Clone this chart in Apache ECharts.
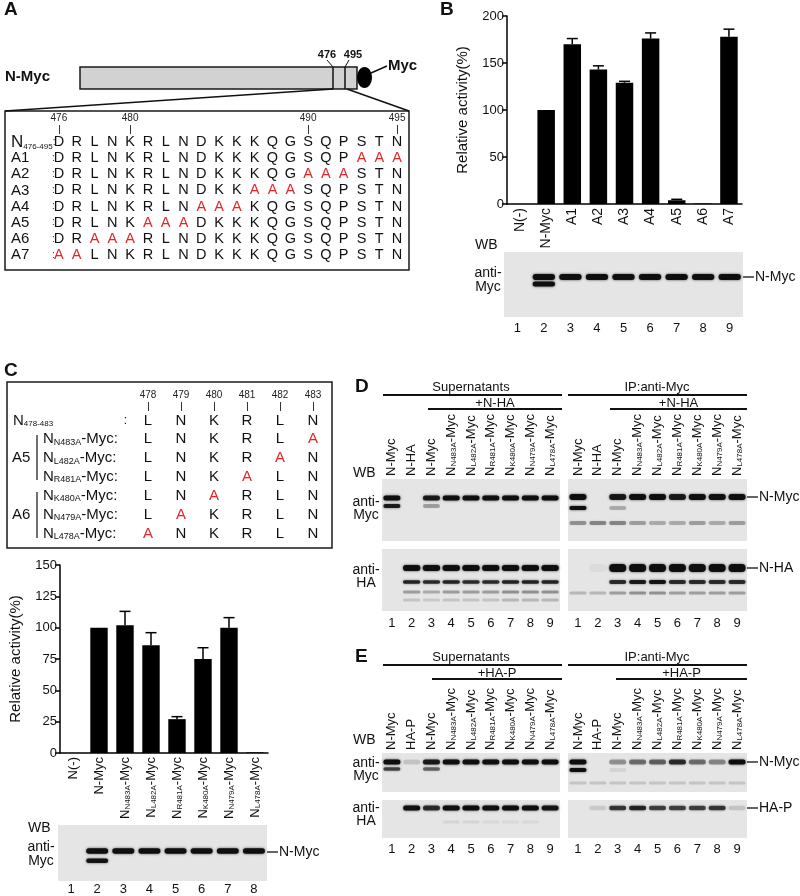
<!DOCTYPE html>
<html><head><meta charset="utf-8">
<script src="https://cdn.jsdelivr.net/npm/echarts@6/dist/echarts.min.js"></script>
<style>html,body{margin:0;padding:0;background:#fff}#c{width:800px;height:896px}</style>
</head><body><div id="c"></div>
<script>
// ================= DATA =================
// Panel B: relative activity (%)
const bCategories = ['N(-)','N-Myc','A1','A2','A3','A4','A5','A6','A7'];
const bValues = [0,100,170,143,129,176,4,0.5,178];
const bErrors = [0,0,6,4,1.5,6,1,0,8];
const bYTicks = [0,50,100,150,200];
// Panel C: relative activity (%)
const cCategories = ['N(-)','N-Myc','N483A','L482A','R481A','K480A','N479A','L478A'];
const cValues = [0,100,102,86,27,75,100,0.5];
const cErrors = [0,0,11,10,2,9,8,0];
const cYTicks = [0,25,50,75,100,125,150];
// Panel A: sequence table
const seqPositions = [476,477,478,479,480,481,482,483,484,485,486,487,488,489,490,491,492,493,494,495];
const seqMarked = [476,480,490,495];
const seqRowNames = ['N476-495','A1','A2','A3','A4','A5','A6','A7'];
const seqRows = [
 'DRLNKRLNDKKKQGSQPSTN',
 'DRLNKRLNDKKKQGSQPAAA',
 'DRLNKRLNDKKKQGAAASTN',
 'DRLNKRLNDKKAAASQPSTN',
 'DRLNKRLNAAAKQGSQPSTN',
 'DRLNKAAADKKKQGSQPSTN',
 'DRAAARLNDKKKQGSQPSTN',
 'AALNKRLNDKKKQGSQPSTN'
];
// Panel C: point mutant table
const cPositions = [478,479,480,481,482,483];
const cRowNames = ['N478-483','N483A','L482A','R481A','K480A','N479A','L478A'];
const cRows = ['LNKRLN','LNKRLA','LNKRAN','LNKALN','LNARLN','LAKRLN','ANKRLN'];
const cGroups = ['A5','A6'];
// Lane labels
const laneNums9 = ['1','2','3','4','5','6','7','8','9'];
const laneNums8 = ['1','2','3','4','5','6','7','8'];
const dLanes = ['N-Myc','N-HA','N-Myc','N483A','L482A','R481A','K480A','N479A','L478A'];
const eLanes = ['N-Myc','HA-P','N-Myc','N483A','L482A','R481A','K480A','N479A','L478A'];
// Western blot band intensities (0..1) per lane
const bBlotMyc    = [0,1,1,1,1,1,1,1,1];
const bBlotMycLow = [0,1,0,0,0,0,0,0,0];
const cBlotMyc    = [0,1,1,1,1,1,1,1];
const cBlotMycLow = [0,0.95,0,0,0,0,0,0];
const dSupMyc     = [1,0,0.9,1,1,1,1,1,1];
const dSupMycLow  = [0.9,0,0.3,0,0,0,0,0,0];
const dIpMyc      = [1,0,0.9,1,1,0.9,1,1,1];
const dIpMycLow   = [1,0,0.25,0,0,0,0,0,0];
const dIpIgG      = [0.35,0.4,0.4,0.3,0.25,0.25,0.3,0.25,0.3];
const dSupHA      = [0,1,1,1,1,1,1,1,1];
const dSupHA2     = [0,0.85,0.8,0.85,0.8,0.8,0.85,0.85,0.85];
const dSupHA3     = [0,0.3,0.25,0.3,0.3,0.3,0.35,0.35,0.35];
const dSupHA4     = [0,0.15,0.12,0.15,0.15,0.15,0.2,0.2,0.2];
const dIpHA       = [0,0.05,1,1,1,1,1,1,1];
const dIpHA2      = [0,0,0.8,0.9,0.95,0.8,0.8,0.8,0.8];
const dIpHA3      = [0.2,0.2,0.3,0.35,0.35,0.3,0.3,0.3,0.3];
const eSupMyc     = [1,0.15,0.9,1,1,1,1,1,1];
const eSupMycLow  = [0.7,0,0.55,0,0,0,0,0,0];
const eIpMyc      = [1,0,0.35,0.5,0.55,0.8,0.5,0.4,1];
const eIpMycLow   = [1,0,0.08,0,0,0,0,0,0];
const eIpIgG      = [0.15,0.15,0.15,0.15,0.15,0.15,0.15,0.15,0.15];
const eSupHA      = [0,1,0.8,1,1,1,1,1,0.95];
const eSupHALow   = [0,0,0,0.08,0.08,0.06,0.06,0.06,0];
const eIpHA       = [0,0.12,0.75,0.85,0.7,0.7,0.7,0.75,0.15];

// ================= BUILD =================
const FONT = '"Liberation Sans", Arial, Helvetica, sans-serif';
const RED = '#e3262b';
const grids=[], xAxes=[], yAxes=[], series=[], graphics=[];
function addGrid(g){ grids.push(Object.assign({containLabel:false}, g)); return grids.length-1; }
function txt(x,y,text,size,o){o=o||{};graphics.push({type:'text',x:x,y:y,silent:true,z:10,style:{text:text,fontFamily:FONT,fontSize:size,fontWeight:o.bold?'bold':'normal',fill:o.fill||'#111',align:o.align||'left',textAlign:o.align||'left',verticalAlign:'middle',textVerticalAlign:'middle'}});}
function ln(x1,y1,x2,y2,w,c){graphics.push({type:'line',silent:true,z:10,shape:{x1:x1,y1:y1,x2:x2,y2:y2},style:{stroke:c||'#111',lineWidth:w||1}});}
function rc(x,y,w,h,fill,stroke,lw){graphics.push({type:'rect',silent:true,z:1,shape:{x:x,y:y,width:w,height:h},style:{fill:fill||'none',stroke:stroke||null,lineWidth:lw||1}});}

const axisBlack = {color:'#000', width:1.5};
function errRender(params, api){
  const i=api.value(0), v=api.value(1), e=api.value(2);
  if(!(e>0)) return null;
  const p0=api.coord([i,v]), p1=api.coord([i,v+e]);
  const cap=5.5;
  return {type:'group', children:[
    {type:'line', shape:{x1:p0[0],y1:p0[1],x2:p1[0],y2:p1[1]}, style:{stroke:'#000',lineWidth:1.5}},
    {type:'line', shape:{x1:p1[0]-cap,y1:p1[1],x2:p1[0]+cap,y2:p1[1]}, style:{stroke:'#000',lineWidth:1.5}}
  ]};
}
const isMut = v => /^[NLRK]\d{3}A$/.test(v);
const laneRich = {b:{fontSize:13,fontFamily:FONT,color:'#111'}, s:{fontSize:8,fontFamily:FONT,color:'#111',verticalAlign:'bottom'}};
const laneFmt = v => isMut(v) ? '{b|N}{s|'+v+'}{b|-Myc}' : '{b|'+v+'}';

function barChart(box, cats, vals, errs, ticks, labelSize, fmt, rich){
  const g = addGrid(box);
  const xi = xAxes.length, yi = yAxes.length;
  xAxes.push({gridIndex:g, type:'category', data:cats, axisLine:{lineStyle:axisBlack}, axisTick:{show:false},
    axisLabel:{rotate:90, interval:0, margin:4, fontSize:labelSize, fontFamily:FONT, color:'#111', formatter:fmt, rich:rich}});
  yAxes.push({gridIndex:g, type:'value', min:ticks[0], max:ticks[ticks.length-1], interval:ticks[1]-ticks[0],
    axisLine:{show:true,lineStyle:axisBlack}, axisTick:{show:true,length:5,lineStyle:axisBlack}, splitLine:{show:false},
    axisLabel:{fontSize:13, fontFamily:FONT, color:'#111', margin:3},
    name:'Relative activity(%)', nameLocation:'middle', nameRotate:90, nameGap:37, nameTextStyle:{fontSize:15,fontFamily:FONT,color:'#111'}});
  series.push({type:'bar', xAxisIndex:xi, yAxisIndex:yi, data:vals, barWidth:'67%', itemStyle:{color:'#000'}, silent:true});
  series.push({type:'custom', xAxisIndex:xi, yAxisIndex:yi, renderItem:errRender, data:vals.map((v,i)=>[i,v,errs[i]]), z:3, silent:true});
}
// Panel B chart
barChart({left:507, top:16, width:235, height:188}, bCategories, bValues, bErrors, bYTicks, 14, v=>v, null);
// Panel C chart
const cRich = {b:{fontSize:13,fontFamily:FONT,color:'#111'}, s:{fontSize:8,fontFamily:FONT,color:'#111',verticalAlign:'bottom'}};
barChart({left:60, top:565, width:208, height:188}, cCategories, cValues, cErrors, cYTicks, 13, laneFmt, cRich);

// Sequence tables (text cells drawn through category scales)
function textTable(box, cols, marked, rowNames, rows, labelFmt, labelRich, labelMargin, cellSize){
  const g = addGrid(box);
  const xi = xAxes.length, yi = yAxes.length;
  const showIdx = i => marked.indexOf(cols[i]) >= 0;
  xAxes.push({gridIndex:g, type:'category', position:'top', data:cols.map(String), axisLine:{show:false},
    axisTick:{show:true, alignWithLabel:true, length:9, interval:showIdx, lineStyle:{color:'#333',width:1}},
    axisLabel:{interval:showIdx, fontSize:10, fontFamily:FONT, color:'#222', margin:11}});
  yAxes.push({gridIndex:g, type:'category', inverse:true, data:rowNames, axisLine:{show:false}, axisTick:{show:false},
    axisLabel:{align:'left', margin:labelMargin, formatter:labelFmt, rich:labelRich, interval:0}});
  const cells = [];
  rows.forEach((r,ri)=>{ r.split('').forEach((ch,ci)=>{ cells.push({c:ci, r:ri, ch:ch, red: ri>0 && ch!==rows[0][ci]}); }); });
  series.push({type:'custom', xAxisIndex:xi, yAxisIndex:yi, silent:true, data:cells.map(d=>[d.c,d.r]),
    renderItem:function(params, api){
      const d = cells[params.dataIndex];
      const p = api.coord([d.c, d.r]);
      return {type:'text', x:p[0], y:p[1], style:{text:d.ch, fontFamily:FONT, fontSize:cellSize, fill:d.red?RED:'#111',
        align:'center', textAlign:'center', verticalAlign:'middle', textVerticalAlign:'middle'}};
    }});
}
textTable({left:50, top:134, width:356, height:129}, seqPositions, seqMarked, seqRowNames, seqRows,
  (v,i)=> i===0 ? '{n|N}{s|476-495}{c|:}' : '{a|'+v+'}{c|:}',
  {n:{fontSize:17,fontFamily:FONT,color:'#111'}, s:{fontSize:8,fontFamily:FONT,color:'#111',verticalAlign:'bottom'},
   a:{fontSize:15,fontFamily:FONT,color:'#111',width:41}, c:{fontSize:10,fontFamily:FONT,color:'#333'}}, 39, 14.5);
textTable({left:131.5, top:411, width:198, height:132}, cPositions, cPositions, cRowNames, cRows,
  (v,i)=> i===0 ? '{n|N}{s0|478-483}{c|:}' : '{sp|}{n|N}{s|'+v+'}{m|-Myc:}',
  {n:{fontSize:15,fontFamily:FONT,color:'#111'}, s0:{fontSize:8,fontFamily:FONT,color:'#111',verticalAlign:'bottom',width:100},
   s:{fontSize:9,fontFamily:FONT,color:'#111',verticalAlign:'bottom'}, m:{fontSize:15,fontFamily:FONT,color:'#111'},
   sp:{width:30}, c:{fontSize:12,fontFamily:FONT,color:'#111'}}, 118.5, 15);

// Western blots (bands drawn through lane/offset scales)
const blotLayout = [
 {left:504, top:252, width:239, height:65, lanes:laneNums9, bottomMargin:5, wf:0.84, bands:[{d:bBlotMyc,y:25,h:6},{d:bBlotMycLow,y:32,h:5}]},
 {left:58, top:825, width:209, height:58, lanes:laneNums8, bottomMargin:2, wf:0.84, bands:[{d:cBlotMyc,y:27,h:5.5},{d:cBlotMycLow,y:37,h:4.5}]},
 {left:382, top:479, width:178, height:62, lanes:dLanes, topLabels:true, wf:0.86, bands:[{d:dSupMyc,y:19,h:5},{d:dSupMycLow,y:27,h:4}]},
 {left:568, top:479, width:179, height:62, lanes:dLanes, topLabels:true, wf:0.86, bands:[{d:dIpMyc,y:18,h:6},{d:dIpMycLow,y:29,h:4},{d:dIpIgG,y:44,h:4}]},
 {left:382, top:549, width:178, height:62, lanes:laneNums9, bottomMargin:6, wf:0.88, bands:[{d:dSupHA,y:19,h:6},{d:dSupHA2,y:33,h:3.5},{d:dSupHA3,y:43,h:3},{d:dSupHA4,y:51,h:3}]},
 {left:568, top:549, width:179, height:62, lanes:laneNums9, bottomMargin:6, wf:0.86, bands:[{d:dIpHA,y:19,h:8},{d:dIpHA2,y:33,h:4},{d:dIpHA3,y:44,h:3}]},
 {left:382, top:753, width:178, height:39, lanes:eLanes, topLabels:true, wf:0.86, bands:[{d:eSupMyc,y:9,h:5},{d:eSupMycLow,y:16,h:3.5}]},
 {left:568, top:753, width:179, height:39, lanes:eLanes, topLabels:true, wf:0.86, bands:[{d:eIpMyc,y:9,h:5},{d:eIpMycLow,y:17,h:4},{d:eIpIgG,y:30,h:3}]},
 {left:382, top:800, width:178, height:38, lanes:laneNums9, bottomMargin:5, wf:0.86, bands:[{d:eSupHA,y:8,h:5},{d:eSupHALow,y:22,h:3}]},
 {left:568, top:800, width:179, height:38, lanes:laneNums9, bottomMargin:5, wf:0.86, bands:[{d:eIpHA,y:8,h:4.5}]}
];
blotLayout.forEach(b=>{
  const g = addGrid({left:b.left, top:b.top, width:b.width, height:b.height, show:true, backgroundColor:'#e5e5e5', borderWidth:0});
  const xi = xAxes.length, yi = yAxes.length;
  xAxes.push({gridIndex:g, type:'category', data:b.lanes, position:b.topLabels?'top':'bottom', axisLine:{show:false}, axisTick:{show:false},
    axisLabel: b.topLabels ? {rotate:90, interval:0, margin:3, formatter:laneFmt, rich:laneRich}
                           : {interval:0, margin:b.bottomMargin, fontSize:13, fontFamily:FONT, color:'#111'}});
  yAxes.push({gridIndex:g, type:'value', min:0, max:b.height, inverse:true, show:false});
  const cells = [];
  b.bands.forEach(bd=>bd.d.forEach((a,i)=>{ if(a>0) cells.push({lane:i, y:bd.y, h:bd.h, a:a}); }));
  series.push({type:'custom', xAxisIndex:xi, yAxisIndex:yi, silent:true, data:cells.map(c=>[c.lane,c.y]),
    renderItem:function(params, api){
      const c = cells[params.dataIndex];
      const p = api.coord([c.lane, c.y]);
      const w = api.size([1,0])[0]*b.wf;
      const alpha = Math.min(1, c.a*0.97);
      return {type:'rect', shape:{x:p[0]-w/2, y:p[1]-c.h/2, width:w, height:c.h, r:c.h/2},
        style:{fill:'rgba(12,12,12,'+alpha+')', shadowBlur:2.5, shadowColor:'rgba(12,12,12,'+(alpha*0.8)+')'}};
    }});
});

// ================= ANNOTATIONS =================
// panel letters
txt(4,10,'A',19,{bold:true}); txt(440,10,'B',19,{bold:true}); txt(4,371,'C',19,{bold:true});
txt(355,387,'D',19,{bold:true}); txt(355,657,'E',19,{bold:true});
// Panel A schematic
txt(5,77,'N-Myc',15,{bold:true});
rc(80,67,277,22,'#d2d2d2','#1a1a1a',1.5);
ln(333,67,333,89,1.5); ln(345,67,345,89,1.5);
graphics.push({type:'ellipse',silent:true,z:10,shape:{cx:364.5,cy:77.5,rx:7.5,ry:10.5},style:{fill:'#000'}});
ln(371,73,387,66,1.5); txt(388,66,'Myc',15,{bold:true});
txt(327,55,'476',11,{bold:true,align:'center'}); txt(353,55,'495',11,{bold:true,align:'center'});
ln(327,60,333,67,1); ln(349,60,345,67,1);
ln(5,111,333,89,1.5); ln(347,89,409,111,1.5);
rc(5,111,404,159,'none','#1a1a1a',1.5);
// Panel C box & groups
rc(7,382,325,166,'none','#1a1a1a',1.5);
txt(12,458,cGroups[0],15); ln(37,435,37,480,1.2);
txt(12,515,cGroups[1],15); ln(37,492,37,538,1.2);
// blot side labels
function wbLabels(x, wbY, rows){ txt(x,wbY,'WB',14); rows.forEach(r=>{ txt(r.cx,r.y1,'anti-',14,{align:'center'}); txt(r.cx,r.y2,r.t,14,{align:'center'}); }); }
wbLabels(475,245,[{cx:488,y1:273,y2:287,t:'Myc'}]);
wbLabels(28,828,[{cx:41,y1:847,y2:861,t:'Myc'}]);
wbLabels(353,473,[{cx:366,y1:502,y2:515,t:'Myc'},{cx:366,y1:570,y2:583,t:'HA'}]);
wbLabels(353,740,[{cx:366,y1:763,y2:776,t:'Myc'},{cx:366,y1:808,y2:821,t:'HA'}]);
function rightLabel(x1,y,t){ ln(x1,y,x1+11,y,1.3); txt(x1+12,y,t,14); }
rightLabel(743,277,'N-Myc'); rightLabel(267,852,'N-Myc');
rightLabel(747,497,'N-Myc'); rightLabel(747,568,'N-HA');
rightLabel(747,762,'N-Myc'); rightLabel(747,808,'HA-P');
// headers D / E
function header(y, sub, subLx, subRx){
  txt(471,y,'Supernatants',13,{align:'center'}); ln(383,y+8,562,y+8,2);
  txt(657,y,'IP:anti-Myc',13,{align:'center'}); ln(568,y+8,747,y+8,2);
  txt((subLx+562)/2,y+16,sub,13,{align:'center'}); ln(subLx,y+22,562,y+22,2);
  txt((subRx+747)/2,y+16,sub,13,{align:'center'}); ln(subRx,y+22,747,y+22,2);
}
header(387,'+N-HA',428,610);
header(657,'+HA-P',432,616);

const chart = echarts.init(document.getElementById('c'), null, {renderer:'canvas', width:800, height:896});
chart.setOption({animation:false, backgroundColor:'#fff', textStyle:{fontFamily:FONT},
  grid:grids, xAxis:xAxes, yAxis:yAxes, series:series, graphic:{elements:graphics}});
</script></body></html>
